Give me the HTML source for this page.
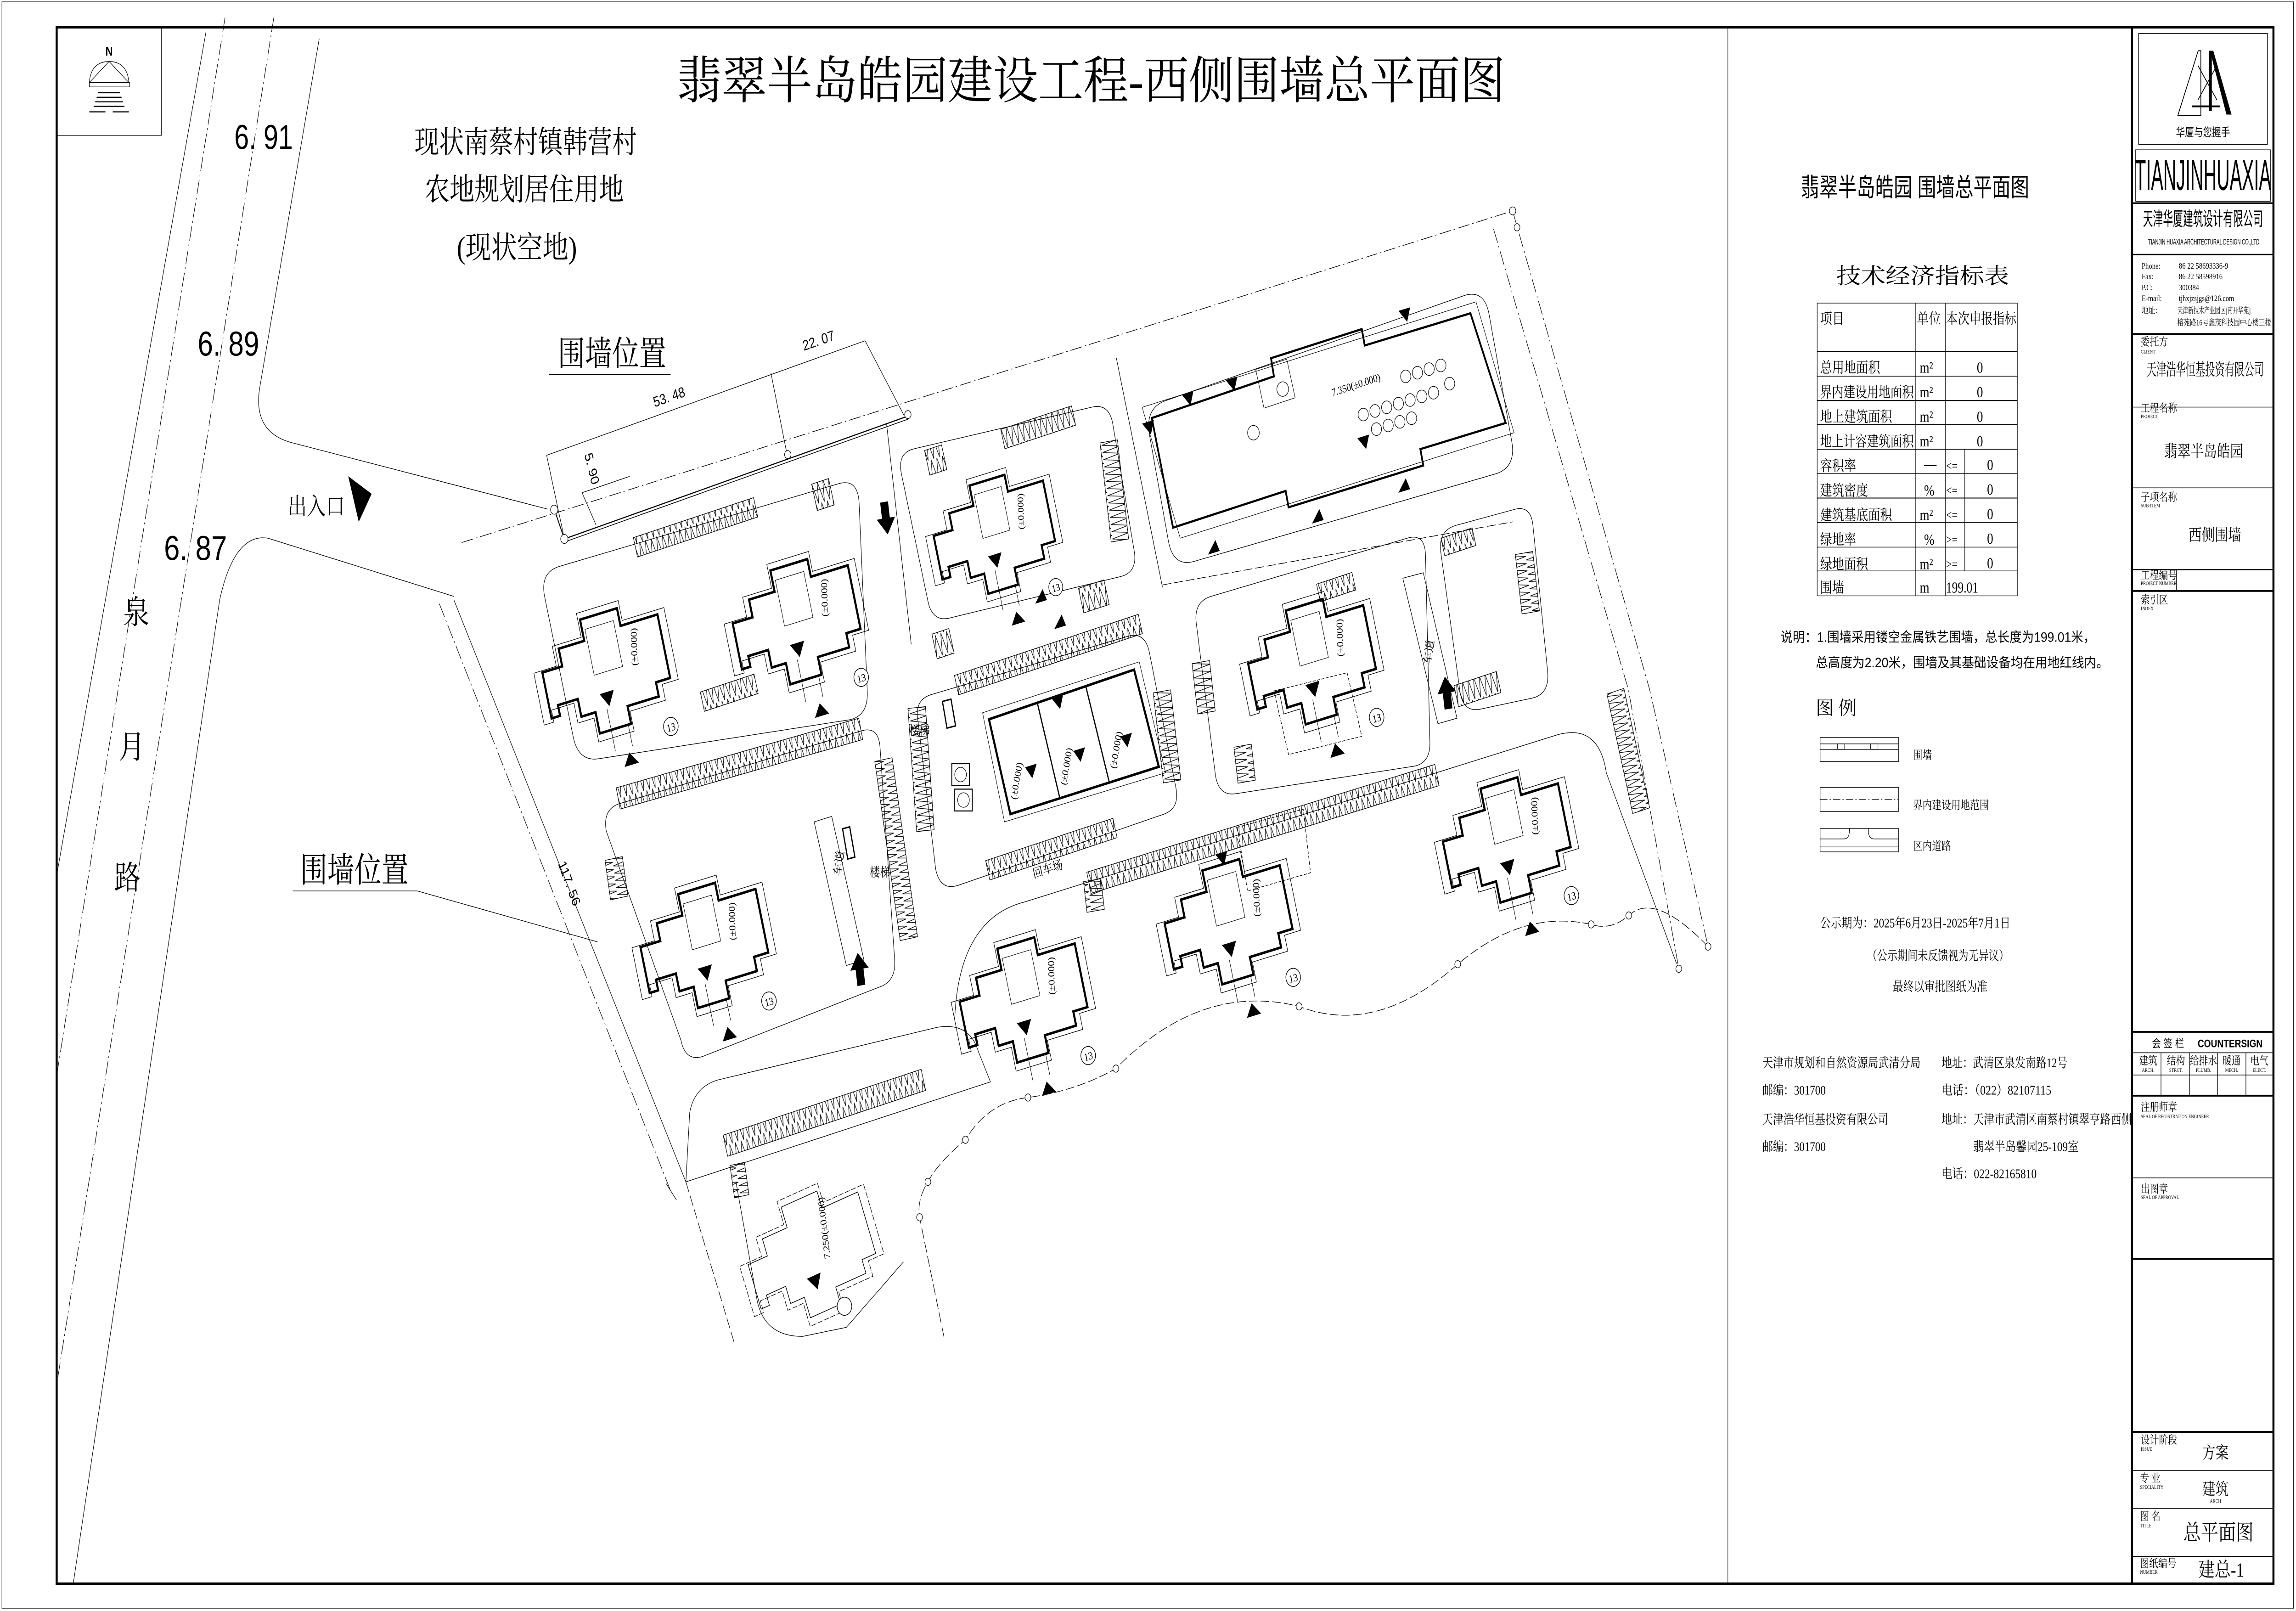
<!DOCTYPE html>
<html><head><meta charset="utf-8"><style>
html,body{margin:0;padding:0;background:#fff;overflow:hidden;width:100vw;height:100vh;}
svg{display:block;width:100vw;height:100vh;}
text{font-family:"Liberation Serif","Noto Serif CJK SC",serif;fill:#000;}
.s{font-family:"Liberation Sans","Noto Sans CJK SC",sans-serif;}
</style></head><body>
<svg viewBox="0 0 1568 886" preserveAspectRatio="none" xmlns="http://www.w3.org/2000/svg">
<defs>
<pattern id="zz" patternUnits="userSpaceOnUse" width="4" height="12"><path d="M0,0 L2,12 L4,0" fill="none" stroke="#000" stroke-width="0.35"/></pattern>
<pattern id="zv" patternUnits="userSpaceOnUse" width="12" height="4"><path d="M0,0 L12,2 L0,4" fill="none" stroke="#000" stroke-width="0.35"/></pattern>
<path id="hp" d="M-44,-8 H-30 V-18 H-12 V-30 H14 V-20 H40 V16 H30 V24 H8 V34 H-14 V22 H-24 V12 H-38 V18 H-44 Z"/>
<g id="h">
 <use href="#hp" fill="none" stroke="#000" stroke-width="1.4"/>
 <use href="#hp" fill="none" stroke="#000" stroke-width="0.3" transform="scale(1.13)"/>
 <rect x="-10" y="-24" width="20" height="26" fill="none" stroke="#000" stroke-width="0.3"/>
 <line x1="-6" y1="22" x2="-6" y2="46" stroke="#000" stroke-width="0.3"/>
 <line x1="6" y1="34" x2="6" y2="46" stroke="#000" stroke-width="0.3"/>
 <polygon points="-9,13 1,13 -4,21" fill="#000"/>
 <polygon points="-2,56 8,56 3,49" fill="#000"/>
 <circle cx="34" cy="42" r="5" fill="#fff" stroke="#000" stroke-width="0.4"/>
 <text x="34" y="44.5" font-size="6" text-anchor="middle">13</text>
 <text x="20" y="4" font-size="6" transform="rotate(-78 20 4)">(±0.000)</text>
</g>
<polygon id="arr" points="-3,-10 3,-10 3,0 7,0 0,10 -7,0 -3,0" fill="#000"/>
</defs>

<rect x="1.3" y="1" width="1565" height="883.5" fill="none" stroke="#000" stroke-width="0.3"/>
<rect x="38.7" y="15" width="1513.9" height="856" fill="none" stroke="#000" stroke-width="1.4"/>
<line x1="1180" y1="15" x2="1180" y2="871" stroke="#000" stroke-width="0.3"/>

<rect x="38.7" y="15" width="71.5" height="59.5" fill="none" stroke="#000" stroke-width="0.3"/>
<text x="74.5" y="30.5" font-size="7" text-anchor="middle" class="s" font-weight="bold">N</text>
<path d="M61,45.4 Q62,34 74.5,33.8 Q87,34 88,45.4 Z M61,45.4 L74.5,33.8 L88,45.4" fill="none" stroke="#000" stroke-width="0.35"/>
<rect x="61" y="45.4" width="27.5" height="2.4" fill="none" stroke="#000" stroke-width="0.35"/>
<g stroke="#000" stroke-width="0.6">
<line x1="67" y1="51" x2="82" y2="51"/><line x1="66" y1="53.5" x2="83" y2="53.5"/><line x1="65" y1="56" x2="84" y2="56"/><line x1="64" y1="58.5" x2="85" y2="58.5"/><line x1="61" y1="61.5" x2="72" y2="61.5"/><line x1="77" y1="61.5" x2="88" y2="61.5"/>
</g>

<text x="745" y="54" font-size="28" text-anchor="middle" textLength="566" lengthAdjust="spacingAndGlyphs">翡翠半岛皓园建设工程-西侧围墙总平面图</text>

<g fill="none" stroke="#000" stroke-width="0.35">
<line x1="140.7" y1="17.4" x2="39" y2="480"/>
<line x1="153.7" y1="9.7" x2="39" y2="590" stroke-dasharray="8 2 1 2"/>
<line x1="187" y1="9.7" x2="39" y2="760" stroke-dasharray="8 2 1 2"/>
<path d="M218,21.3 L177.5,212.6 Q172,238 200,243.6 L374,280"/>
<path d="M50,871 L150,330 Q160,293 183,296 L310,328"/>
</g>
<text x="160" y="82" font-size="19" class="s" textLength="40" lengthAdjust="spacingAndGlyphs">6. 91</text>
<text x="135" y="195.6" font-size="19" class="s" textLength="42" lengthAdjust="spacingAndGlyphs">6. 89</text>
<text x="112" y="308" font-size="19" class="s" textLength="43" lengthAdjust="spacingAndGlyphs">6. 87</text>
<text x="93" y="343" font-size="18" text-anchor="middle">泉</text>
<text x="90" y="417" font-size="18" text-anchor="middle">月</text>
<text x="87" y="489" font-size="18" text-anchor="middle">路</text>

<text x="359" y="84" font-size="17" text-anchor="middle" textLength="152" lengthAdjust="spacingAndGlyphs">现状南蔡村镇韩营村</text>
<text x="358" y="110" font-size="17" text-anchor="middle" textLength="136" lengthAdjust="spacingAndGlyphs">农地规划居住用地</text>
<text x="353" y="142" font-size="17" text-anchor="middle" textLength="82" lengthAdjust="spacingAndGlyphs">(现状空地)</text>
<text x="381" y="201" font-size="19" textLength="74" lengthAdjust="spacingAndGlyphs">围墙位置</text>
<line x1="375" y1="206" x2="458" y2="206" stroke="#000" stroke-width="0.4"/>
<text x="205" y="485" font-size="19" textLength="74" lengthAdjust="spacingAndGlyphs">围墙位置</text>
<polyline points="200,490 285,490 408,518" fill="none" stroke="#000" stroke-width="0.35"/>
<text x="216" y="283" font-size="13" text-anchor="middle">出入口</text>
<polygon points="237.8,261.9 253.8,271.6 245,287" fill="#000"/>

<g fill="none" stroke="#000" stroke-width="0.35">
<polyline points="315.3,298.4 1033,116 1126.5,379 1166.5,520.6" stroke-dasharray="8 2 1 2"/>
<polyline points="1020,126 1112,379 1146.5,532.8" stroke-dasharray="8 2 1 2"/>
<path d="M1166.5,520.6 Q1130,490 1112.3,503.5 Q1100,512 1086.7,508.4 Q1040,500 995.5,530.3 Q940,570 887.2,553.5 Q820,540 762,587.7 Q735,600 702,603.6 Q675,606 659.3,626.8 Q640,640 633.7,650 Q626,660 628,669.5 L645,736.6" stroke-dasharray="6 2"/>
<line x1="310" y1="330" x2="468.4" y2="650"/>
<line x1="468.4" y1="650" x2="502" y2="740" stroke-dasharray="6 2"/>
<line x1="300" y1="332" x2="458" y2="655" stroke-dasharray="8 2 1 2"/>
<line x1="455" y1="651" x2="462" y2="660"/>
<line x1="385.4" y1="296.4" x2="619.8" y2="228.9" stroke-width="0.6"/>
<line x1="385.8" y1="298" x2="620.2" y2="230.5" stroke-width="0.4"/>
<line x1="378.5" y1="280" x2="385.4" y2="296.4" stroke-width="0.6"/>
<line x1="373.3" y1="250.4" x2="590.8" y2="187.4"/>
<line x1="373.3" y1="250.4" x2="385.4" y2="296.2"/>
<line x1="526.5" y1="205.2" x2="537.6" y2="250.4"/>
<line x1="590.8" y1="187.4" x2="617.4" y2="228.5"/>
<line x1="397.5" y1="271" x2="407.1" y2="288.8"/>
<line x1="397.5" y1="271" x2="430" y2="262"/>
<line x1="605.4" y1="232.7" x2="622.3" y2="354.4"/>
<line x1="762.4" y1="197" x2="793.9" y2="323"/>
<line x1="793.9" y1="321.7" x2="1033" y2="287" stroke-dasharray="6 2"/>
</g>
<g fill="#fff" stroke="#000" stroke-width="0.35">
<circle cx="378.5" cy="280.3" r="2.5"/><circle cx="385.4" cy="296.4" r="2.5"/><circle cx="538" cy="250" r="2.2"/><circle cx="620" cy="228" r="2.2"/><circle cx="1033" cy="116" r="2.2"/><circle cx="1036" cy="125" r="2"/>
<circle cx="1112.3" cy="503.5" r="2"/><circle cx="1086.7" cy="508.4" r="2"/><circle cx="995.5" cy="530.3" r="2"/><circle cx="887.2" cy="553.5" r="2"/><circle cx="762" cy="587.7" r="2"/><circle cx="702" cy="603.6" r="2"/><circle cx="659.3" cy="626.8" r="2"/><circle cx="633.7" cy="650" r="2"/><circle cx="628" cy="669.5" r="2"/><circle cx="1166.5" cy="520.6" r="2"/><circle cx="1146.5" cy="532.8" r="2"/>
</g>
<text x="447" y="224" font-size="8" class="s" transform="rotate(-16 447 224)">53. 48</text>
<text x="549" y="193" font-size="8" class="s" transform="rotate(-16 549 193)">22. 07</text>
<text x="399" y="250" font-size="8" class="s" transform="rotate(73 399 250)">5. 90</text>
<text x="381" y="475" font-size="8" class="s" transform="rotate(66 381 475)">117. 56</text>

<g fill="none" stroke="#000" stroke-width="0.35">
<path d="M382.1,311.5 L572.4,266.1 Q586,262.8 586.7,276.8 L592.3,380.3 Q593,394.3 579.1,396 L408.9,417.3 Q395,419 391.5,405.4 L372,328.4 Q368.5,314.8 382.1,311.5 Z"/>
<path d="M624.4,246.8 L745.8,223.9 Q757.6,221.7 760,233.4 L774.6,303.1 Q777,314.8 765.2,317.1 L648.5,339.9 Q636.7,342.2 633.7,330.6 L615.6,260.6 Q612.6,249 624.4,246.8 Z"/>
<path d="M796.2,220.3 L999.4,162.7 Q1013.8,158.6 1017,173.2 L1032.4,242.7 Q1035.6,257.3 1021,260.7 L815.7,308.7 Q801.1,312.1 797.9,297.4 L785,239.1 Q781.8,224.4 796.2,220.3 Z"/>
<path d="M636,382 L770,350 Q782,347 785,359 L803,433 Q806,445 794,448 L654,487 Q642,490 639,478 L627,397 Q624,385 636,382 Z"/>
<path d="M827,328 L961,296 Q973,293 973.5,305 L976.5,408 Q977,420 965,421.5 L844,436.5 Q832,438 830,426 L817,343 Q815,331 827,328 Z"/>
<path d="M994,289 L1035,280 Q1046,278 1047,290 L1057,370 Q1058,382 1046,384 L1011,390 Q999,392 997,380 L984,304 Q982,292 994,289 Z"/>
<path d="M423,442 L588,402 Q600,399 601,411 L611,528 Q612,540 600,543 L480,581 Q468,584 465,572 L414,457 Q411.5,445 423,442 Z"/>
<path d="M652,560 Q655,505 700,496 L1064,404 Q1092,398 1097,425 L1145,530"/>
<path d="M468.4,650 L471,612 Q474,598 490,594 L640,565 Q662,562 668,578 L676.4,595 Z"/>
<path d="M502.6,650 L517,715 Q522,735 548,735 L578,730 L617,694"/>
<path d="M556,452 L568,449 L590,528 L578,531 Z"/>
<rect x="577" y="455" width="5" height="17" stroke-width="0.8" transform="rotate(-12 580 463)"/>
<rect x="645" y="385" width="6" height="15" stroke-width="0.8" transform="rotate(-12 648 392)"/>
<rect x="650" y="420" width="12" height="12" stroke-width="0.6"/>
<rect x="652" y="434" width="12" height="12" stroke-width="0.6"/>
<circle cx="656" cy="426" r="4"/><circle cx="658" cy="440" r="4"/>
<path d="M958,318 L972,315 L995,395 L982,398 Z"/>
<path d="M845,455 L890,445 L895,480 L852,490 Z" stroke-dasharray="2 1"/>
<path d="M870,380 L920,370 L930,405 L880,415 Z" stroke-dasharray="2 1"/>
</g>

<g stroke="#000" stroke-width="0.35">
<rect x="432.5" y="284.5" width="85" height="11" fill="url(#zz)" transform="rotate(-15 475 290)"/>
<rect x="556" y="264.5" width="12" height="15" fill="url(#zz)" transform="rotate(-15 562 272)"/>
<rect x="479" y="375.5" width="38" height="11" fill="url(#zz)" transform="rotate(-15 498 381)"/>
<rect x="684" y="229.5" width="50" height="11" fill="url(#zz)" transform="rotate(-15 709 235)"/>
<rect x="755" y="242.5" width="12" height="55" fill="url(#zv)" transform="rotate(-8 761 270)"/>
<rect x="738" y="321" width="18" height="14" fill="url(#zz)" transform="rotate(-15 747 328)"/>
<rect x="633" y="246" width="12" height="14" fill="url(#zz)" transform="rotate(-15 639 253)"/>
<rect x="638" y="347" width="12" height="14" fill="url(#zz)" transform="rotate(-15 644 354)"/>
<rect x="651" y="354.5" width="130" height="11" fill="url(#zz)" transform="rotate(-15 716 360)"/>
<rect x="623" y="389" width="12" height="68" fill="url(#zv)" transform="rotate(-5 629 423)"/>
<rect x="791" y="380" width="12" height="50" fill="url(#zv)" transform="rotate(-8 797 405)"/>
<rect x="673" y="461.5" width="90" height="11" fill="url(#zz)" transform="rotate(-15 718 467)"/>
<rect x="420" y="414" width="170" height="12" fill="url(#zz)" transform="rotate(-13 505 420)"/>
<rect x="415" y="472" width="12" height="22" fill="url(#zv)" transform="rotate(-10 421 483)"/>
<rect x="606" y="417" width="12" height="100" fill="url(#zv)" transform="rotate(-10 612 467)"/>
<rect x="493" y="606" width="140" height="12" fill="url(#zz)" transform="rotate(-15 563 612)"/>
<rect x="740" y="450" width="245" height="12" fill="url(#zz)" transform="rotate(-14 862 456)"/>
<rect x="816" y="364" width="12" height="28" fill="url(#zv)" transform="rotate(-8 822 378)"/>
<rect x="844" y="410" width="12" height="20" fill="url(#zv)" transform="rotate(-8 850 420)"/>
<rect x="1037" y="304" width="12" height="33" fill="url(#zv)" transform="rotate(-8 1043 320)"/>
<rect x="994" y="373" width="30" height="12" fill="url(#zz)" transform="rotate(-15 1009 379)"/>
<rect x="985" y="293" width="22" height="10" fill="url(#zz)" transform="rotate(-15 996 298)"/>
<rect x="1106" y="379" width="12" height="68" fill="url(#zv)" transform="rotate(-15 1112 413)"/>
<rect x="741" y="484" width="12" height="17" fill="url(#zv)" transform="rotate(-8 747 492)"/>
<rect x="900" y="318" width="25" height="10" fill="url(#zz)" transform="rotate(-15 912 323)"/>
<rect x="500" y="640" width="10" height="18" fill="url(#zv)" transform="rotate(-10 505 649)"/>
</g>

<use href="#h" transform="translate(415,367) rotate(-14)"/>
<use href="#h" transform="translate(545,340) rotate(-14)"/>
<use href="#h" transform="translate(680,292) rotate(-14) scale(0.95)"/>
<use href="#h" transform="translate(897,362) rotate(-14)"/>
<use href="#h" transform="translate(482,518) rotate(-14)"/>
<use href="#h" transform="translate(700,548) rotate(-14)"/>
<use href="#h" transform="translate(840,505) rotate(-14)"/>
<use href="#h" transform="translate(1030,460) rotate(-14)"/>
<g transform="translate(555,688) rotate(-20)">
<use href="#hp" fill="none" stroke="#000" stroke-width="0.4"/>
<use href="#hp" fill="none" stroke="#000" stroke-width="0.3" transform="scale(1.13)" stroke-dasharray="3 1"/>
<polygon points="-9,13 1,13 -4,21" fill="#000"/>
<text x="10" y="8" font-size="6" transform="rotate(-78 10 8)">7.250(±0.000)</text>
<circle cx="10" cy="36" r="5" fill="#fff" stroke="#000" stroke-width="0.4"/>
</g>
<g fill="none" stroke="#000">
<polygon points="675.4,395.6 774.5,368.3 791.4,421.7 690,447.7" stroke-width="1.4"/>
<line x1="708.4" y1="386.5" x2="723.8" y2="439" stroke-width="0.8"/>
<line x1="741.5" y1="377.4" x2="757.6" y2="430.4" stroke-width="0.8"/>
<polygon points="671,392 778,364 796,425 686,452" stroke-width="0.3"/>
</g>
<g font-size="6"><text x="694" y="440" transform="rotate(-78 694 440)">(±0.000)</text><text x="728" y="432" transform="rotate(-78 728 432)">(±0.000)</text><text x="762" y="423" transform="rotate(-78 762 423)">(±0.000)</text></g>
<polygon points="700,422 708,420 705,428" fill="#000"/><polygon points="733,413 741,411 738,419" fill="#000"/><polygon points="765,405 773,403 770,411" fill="#000"/>
<g fill="none" stroke="#000" stroke-width="1.2">
<polygon points="786.6,229.9 870,207 868,197 930,181 932,190 1004.2,172.3 1028.3,232.6 970,247 972,256 880,279 878,270 801.1,290.2"/>
</g>
<g fill="none" stroke="#000" stroke-width="0.3">
<polygon points="780,224 1008,166 1034,238 806,296"/>
<rect x="860" y="200" width="22" height="22" transform="rotate(-15 871 211)"/>
</g>
<text x="910" y="218" font-size="6" transform="rotate(-15 910 218)">7.350(±0.000)</text>
<g fill="none" stroke="#000" stroke-width="0.35">
<circle cx="960" cy="207" r="3.5"/><circle cx="968" cy="205" r="3.5"/><circle cx="976" cy="203" r="3.5"/><circle cx="984" cy="201" r="3.5"/><circle cx="990" cy="211" r="3.5"/>
<circle cx="931" cy="228" r="3.5"/><circle cx="939" cy="226" r="3.5"/><circle cx="947" cy="224" r="3.5"/><circle cx="955" cy="222" r="3.5"/><circle cx="963" cy="220" r="3.5"/><circle cx="971" cy="218" r="3.5"/><circle cx="979" cy="216" r="3.5"/>
<circle cx="940" cy="236" r="3.5"/><circle cx="948" cy="234" r="3.5"/><circle cx="956" cy="232" r="3.5"/><circle cx="964" cy="230" r="3.5"/>
<circle cx="876" cy="214" r="4"/><circle cx="856" cy="238" r="4"/>
</g>
<g fill="#000">
<polygon points="780,233 788,231 786,239"/><polygon points="807,217 815,215 813,223"/><polygon points="837,209 845,207 843,215"/><polygon points="955,171 963,169 961,177"/><polygon points="927,241 935,239 933,247"/>
<polygon points="825,305 833,303 830,297"/><polygon points="896,288 904,286 901,280"/><polygon points="955,271 963,269 960,263"/>
<polygon points="720,346 728,344 725,338"/><polygon points="707,332 715,330 712,324"/>
<polygon points="830,470 838,468 836,476"/><polygon points="718,384 726,382 724,390"/>
</g>

<use href="#arr" transform="translate(605,285) rotate(-8) scale(0.9)"/>
<use href="#arr" transform="translate(587,533) rotate(172) scale(0.9)"/>
<use href="#arr" transform="translate(988,381) rotate(172) scale(0.9)"/>
<text x="574" y="482" font-size="7" transform="rotate(-80 574 482)">车道</text>
<text x="977" y="366" font-size="7" transform="rotate(-80 977 366)">车道</text>
<text x="706" y="483" font-size="7" transform="rotate(-15 706 483)">回车场</text>
<text x="621" y="404" font-size="7">楼梯</text>
<text x="594" y="482" font-size="7">楼梯</text>

<text x="1307.8" y="108" font-size="14" text-anchor="middle" textLength="156" lengthAdjust="spacingAndGlyphs" class="s">翡翠半岛皓园  围墙总平面图</text>
<text x="1313" y="156" font-size="12" text-anchor="middle" textLength="118" lengthAdjust="spacingAndGlyphs">技术经济指标表</text>
<g fill="none" stroke="#000" stroke-width="0.35">
<rect x="1241" y="166.7" width="136.7" height="161"/>
<line x1="1308.3" y1="166.7" x2="1308.3" y2="327.7"/>
<line x1="1328.5" y1="166.7" x2="1328.5" y2="327.7"/>
<line x1="1341.8" y1="247.1" x2="1341.8" y2="314"/>
<line x1="1241" y1="193.3" x2="1377.7" y2="193.3"/>
<line x1="1241" y1="206.9" x2="1377.7" y2="206.9"/>
<line x1="1241" y1="220.3" x2="1377.7" y2="220.3" stroke-width="0.5"/>
<line x1="1241" y1="233.5" x2="1377.7" y2="233.5"/>
<line x1="1241" y1="247.1" x2="1377.7" y2="247.1"/>
<line x1="1241" y1="260.5" x2="1377.7" y2="260.5"/>
<line x1="1241" y1="273.9" x2="1377.7" y2="273.9" stroke-width="0.5"/>
<line x1="1241" y1="287.3" x2="1377.7" y2="287.3"/>
<line x1="1241" y1="300.9" x2="1377.7" y2="300.9"/>
<line x1="1241" y1="314" x2="1377.7" y2="314"/>
</g>
<g font-size="8.2" class="s" fill="#000">
<text x="1243" y="178">项目</text><text x="1309" y="178">单位</text><text x="1329" y="178" textLength="48" lengthAdjust="spacingAndGlyphs">本次申报指标</text>
<text x="1243" y="205">总用地面积</text><text x="1243" y="218.5" textLength="64" lengthAdjust="spacingAndGlyphs">界内建设用地面积</text><text x="1243" y="232">地上建筑面积</text><text x="1243" y="245.5" textLength="64" lengthAdjust="spacingAndGlyphs">地上计容建筑面积</text>
<text x="1243" y="259">容积率</text><text x="1243" y="272.5">建筑密度</text><text x="1243" y="286">建筑基底面积</text><text x="1243" y="299.5">绿地率</text><text x="1243" y="313">绿地面积</text><text x="1243" y="326">围墙</text>
</g>
<g font-size="8.5" fill="#000">
<text x="1311" y="205">m²</text><text x="1311" y="218.5">m²</text><text x="1311" y="232">m²</text><text x="1311" y="245.5">m²</text>
<text x="1314" y="258">—</text><text x="1314" y="272.5">%</text><text x="1311" y="286">m²</text><text x="1314" y="299.5">%</text><text x="1311" y="313">m²</text><text x="1311" y="326">m</text>
<g class="s"><text x="1350" y="205">0</text><text x="1350" y="218.5">0</text><text x="1350" y="232">0</text><text x="1350" y="245.5">0</text>
<text x="1329" y="258.5" font-size="7">&lt;=</text><text x="1329" y="272" font-size="7">&lt;=</text><text x="1329" y="285.5" font-size="7">&lt;=</text><text x="1329" y="299" font-size="7">&gt;=</text><text x="1329" y="312.5" font-size="7">&gt;=</text>
<text x="1357" y="258.5">0</text><text x="1357" y="272">0</text><text x="1357" y="285.5">0</text><text x="1357" y="299">0</text><text x="1357" y="312.5">0</text>
<text x="1329" y="326" textLength="22" lengthAdjust="spacingAndGlyphs">199.01</text></g>
</g>
<text x="1216" y="353" font-size="7.5" class="s" textLength="215" lengthAdjust="spacingAndGlyphs">说明：1.围墙采用镂空金属铁艺围墙，总长度为199.01米，</text>
<text x="1240" y="367" font-size="7.5" class="s" textLength="200" lengthAdjust="spacingAndGlyphs">总高度为2.20米，围墙及其基础设备均在用地红线内。</text>

<text x="1240" y="393" font-size="10.5" textLength="28" lengthAdjust="spacingAndGlyphs">图 例</text>
<g fill="none" stroke="#000" stroke-width="0.35">
<rect x="1243" y="405.6" width="53.5" height="13.3"/>
<line x1="1243" y1="409.1" x2="1296.5" y2="409.1"/><line x1="1243" y1="412.1" x2="1296.5" y2="412.1"/>
<rect x="1254.8" y="409.1" width="5" height="3"/><rect x="1277.5" y="409.1" width="5" height="3"/>
<rect x="1243" y="433" width="53.5" height="13.3"/>
<line x1="1243" y1="439.8" x2="1296.5" y2="439.8" stroke-dasharray="5 1.5 0.8 1.5"/>
<rect x="1243" y="455.6" width="53.5" height="12.9"/>
<path d="M1243,461.4 H1259 Q1263,461.4 1263,457 V455.6 M1296.5,461.4 H1280 Q1276,461.4 1276,457 V455.6"/>
<line x1="1243" y1="465.8" x2="1296.5" y2="465.8"/>
</g>
<g font-size="6.5" fill="#000"><text x="1306.4" y="417.5">围墙</text><text x="1306.4" y="445">界内建设用地范围</text><text x="1306.4" y="467.5">区内道路</text></g>
<g font-size="7.2" fill="#000">
<text x="1243" y="510" textLength="130" lengthAdjust="spacingAndGlyphs">公示期为：2025年6月23日-2025年7月1日</text>
<text x="1275" y="528" textLength="97" lengthAdjust="spacingAndGlyphs">（公示期间未反馈视为无异议）</text>
<text x="1292.6" y="545" textLength="64.7" lengthAdjust="spacingAndGlyphs">最终以审批图纸为准</text>
<text x="1203.6" y="587" textLength="108" lengthAdjust="spacingAndGlyphs">天津市规划和自然资源局武清分局</text>
<text x="1203.6" y="602">邮编：301700</text>
<text x="1203.6" y="618" textLength="86" lengthAdjust="spacingAndGlyphs">天津浩华恒基投资有限公司</text>
<text x="1203.6" y="633">邮编：301700</text>
<text x="1325.9" y="587" textLength="86" lengthAdjust="spacingAndGlyphs">地址：武清区泉发南路12号</text>
<text x="1325.9" y="602" textLength="75" lengthAdjust="spacingAndGlyphs">电话：（022）82107115</text>
<text x="1325.9" y="618" textLength="130" lengthAdjust="spacingAndGlyphs">地址：天津市武清区南蔡村镇翠亨路西侧</text>
<text x="1347.5" y="633" textLength="72" lengthAdjust="spacingAndGlyphs">翡翠半岛馨园25-109室</text>
<text x="1325.9" y="648" textLength="65" lengthAdjust="spacingAndGlyphs">电话：022-82165810</text>
</g>

<g fill="none" stroke="#000">
<line x1="1456" y1="15" x2="1456" y2="871" stroke-width="1.4"/>
<rect x="1460.5" y="18.4" width="88" height="61" stroke-width="0.4"/>
<rect x="1458.5" y="82.4" width="92" height="28.3" stroke-width="0.4"/>
<line x1="1456" y1="111.7" x2="1552.6" y2="111.7" stroke-width="0.8"/>
<line x1="1456" y1="140" x2="1552.6" y2="140" stroke-width="0.8"/>
<line x1="1456" y1="183.7" x2="1552.6" y2="183.7" stroke-width="1"/>
<line x1="1456" y1="223.9" x2="1552.6" y2="223.9" stroke-width="0.4"/>
<line x1="1456" y1="268.3" x2="1552.6" y2="268.3" stroke-width="0.4"/>
<line x1="1456" y1="313.3" x2="1552.6" y2="313.3" stroke-width="0.6"/>
<line x1="1486.4" y1="313.3" x2="1486.4" y2="325" stroke-width="0.4"/>
<line x1="1456" y1="325" x2="1552.6" y2="325" stroke-width="1"/>
<line x1="1456" y1="567.5" x2="1552.6" y2="567.5" stroke-width="1"/>
<line x1="1456" y1="579" x2="1552.6" y2="579" stroke-width="0.4"/>
<line x1="1456" y1="591.2" x2="1552.6" y2="591.2" stroke-width="0.4"/>
<line x1="1456" y1="602.6" x2="1552.6" y2="602.6" stroke-width="1"/>
<line x1="1475.8" y1="579" x2="1475.8" y2="602.6" stroke-width="0.4"/>
<line x1="1495.2" y1="579" x2="1495.2" y2="602.6" stroke-width="0.4"/>
<line x1="1514.4" y1="579" x2="1514.4" y2="602.6" stroke-width="0.4"/>
<line x1="1533.8" y1="579" x2="1533.8" y2="602.6" stroke-width="0.4"/>
<line x1="1456" y1="647.8" x2="1552.6" y2="647.8" stroke-width="0.4"/>
<line x1="1456" y1="692.3" x2="1552.6" y2="692.3" stroke-width="1"/>
<line x1="1456" y1="787.5" x2="1552.6" y2="787.5" stroke-width="1"/>
<line x1="1456" y1="808.8" x2="1552.6" y2="808.8" stroke-width="0.4"/>
<line x1="1456" y1="829.7" x2="1552.6" y2="829.7" stroke-width="0.4"/>
<line x1="1456" y1="856" x2="1552.6" y2="856" stroke-width="0.4"/>
</g>
<g stroke="#000" fill="none" stroke-width="0.5">
<polygon points="1487.3,63.5 1501.2,27.9 1503,27.9 1503,63.5"/>
<line x1="1501" y1="36" x2="1514" y2="55"/><line x1="1514" y1="36" x2="1501" y2="55"/>
<line x1="1497" y1="58.5" x2="1516" y2="58.5" stroke-width="1"/>
</g>
<path d="M1509.2,27.9 L1511.5,27.9 L1524,63 L1520.5,63 Z" fill="#000"/>
<rect x="1508.5" y="27.9" width="2" height="33" fill="#000"/>
<text x="1504.5" y="75" font-size="6.5" text-anchor="middle" class="s" textLength="37" lengthAdjust="spacingAndGlyphs">华厦与您握手</text>
<text x="1458" y="104.5" font-size="24" class="s" textLength="93" lengthAdjust="spacingAndGlyphs">TIANJINHUAXIA</text>
<text x="1504.5" y="124" font-size="10.5" text-anchor="middle" class="s" textLength="82" lengthAdjust="spacingAndGlyphs">天津华厦建筑设计有限公司</text>
<text x="1505" y="134.5" font-size="4.5" text-anchor="middle" class="s" textLength="76" lengthAdjust="spacingAndGlyphs">TIANJIN HUAXIA ARCHITECTURAL DESIGN CO.,LTD</text>
<g font-size="4.6" font-family="Liberation Mono, Noto Sans CJK SC, monospace">
<text x="1462.6" y="147.8">Phone:</text><text x="1488" y="147.8">86  22  58693336-9</text>
<text x="1462.6" y="153.6">Fax:</text><text x="1488" y="153.6">86  22  58598916</text>
<text x="1462.6" y="159.6">P.C:</text><text x="1488" y="159.6">300384</text>
<text x="1462.6" y="165.6">E-mail:</text><text x="1488" y="165.6">tjhxjzsjgs@126.com</text>
<text x="1462.6" y="172.4">地址：</text><text x="1487" y="172.4" textLength="50" lengthAdjust="spacingAndGlyphs">天津新技术产业园区[南开华苑]</text>
<text x="1487" y="179" textLength="64" lengthAdjust="spacingAndGlyphs">榕苑路16号鑫茂科技园中心楼三楼</text>
</g>
<g font-size="6.2"><text x="1462" y="190">委托方</text><text x="1462" y="226.5">工程名称</text><text x="1462" y="275.5">子项名称</text><text x="1462" y="318.5">工程编号</text><text x="1462" y="332">索引区</text>
<text x="1480.6" y="576" text-anchor="middle" class="s">会 签 栏</text>
<text x="1462" y="611">注册师章</text><text x="1462" y="656">出图章</text>
<text x="1462" y="794">设计阶段</text><text x="1461.5" y="815">专      业</text><text x="1461.5" y="836">图      名</text><text x="1461.5" y="862">图纸编号</text>
<text x="1467" y="585.5" text-anchor="middle">建筑</text><text x="1486" y="585.5" text-anchor="middle">结构</text><text x="1504.8" y="585.5" text-anchor="middle">给排水</text><text x="1524" y="585.5" text-anchor="middle">暖通</text><text x="1543" y="585.5" text-anchor="middle">电气</text>
</g>
<text x="1523" y="576" font-size="6" text-anchor="middle" class="s" font-weight="bold">COUNTERSIGN</text>
<g font-size="2.8" class="s">
<text x="1462" y="194.3">CLIENT</text><text x="1462" y="230">PROJECT</text><text x="1462" y="279">SUB-ITEM</text><text x="1462" y="321.8">PROJECT NUMBER</text><text x="1462" y="335.5">INDEX</text>
<text x="1462" y="615">SEAL OF REGISTRATION ENGINEER</text><text x="1462" y="659.5">SEAL OF APPROVAL</text>
<text x="1462" y="797.8">ISSUE</text><text x="1461.5" y="818.8">SPECIALITY</text><text x="1461.5" y="840">TITLE</text><text x="1461.5" y="865.5">NUMBER</text>
<text x="1467" y="589.5" text-anchor="middle">ARCH.</text><text x="1486" y="589.5" text-anchor="middle">STRCT.</text><text x="1504.8" y="589.5" text-anchor="middle">PLUMB.</text><text x="1524" y="589.5" text-anchor="middle">MECH.</text><text x="1543" y="589.5" text-anchor="middle">ELECT.</text>
<text x="1513" y="826.5" text-anchor="middle">ARCH</text>
</g>
<text x="1506" y="206.3" font-size="9" text-anchor="middle" textLength="80" lengthAdjust="spacingAndGlyphs">天津浩华恒基投资有限公司</text>
<text x="1505" y="251.3" font-size="9" text-anchor="middle">翡翠半岛皓园</text>
<text x="1512.6" y="297.3" font-size="9" text-anchor="middle">西侧围墙</text>
<text x="1513" y="802" font-size="9" text-anchor="middle">方案</text>
<text x="1513" y="822" font-size="9" text-anchor="middle">建筑</text>
<text x="1515" y="847" font-size="12" text-anchor="middle">总平面图</text>
<text x="1517" y="867" font-size="11" text-anchor="middle">建总-1</text>
</svg>
</body></html>
